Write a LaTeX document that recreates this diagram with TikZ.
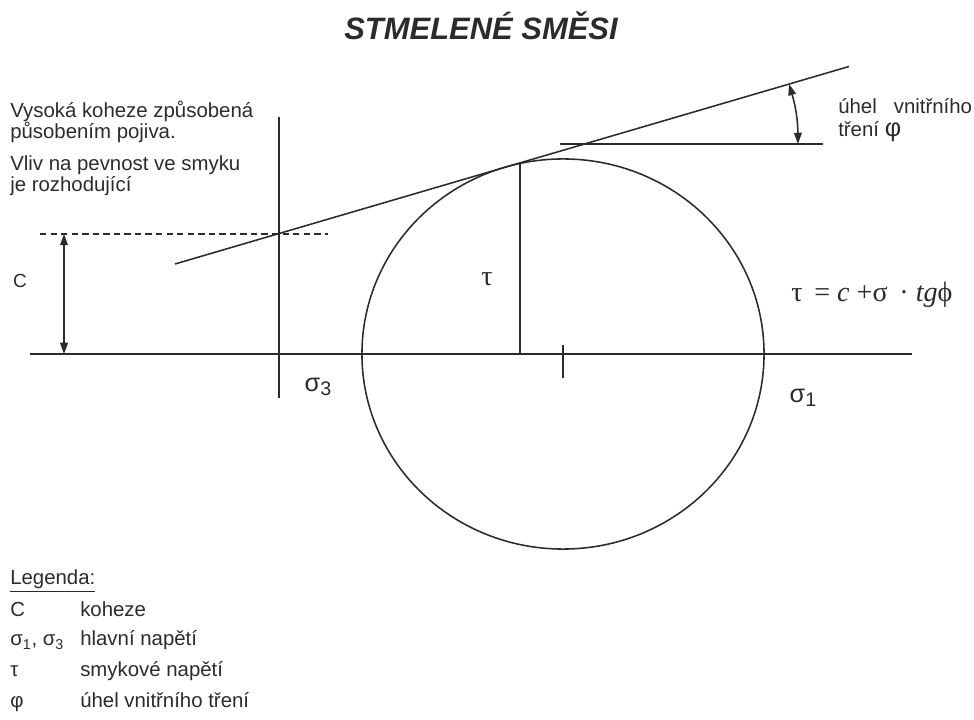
\documentclass[tikz,border=0pt]{standalone}
\usepackage{fontspec}
\setmainfont{Liberation Sans}
\newfontfamily\timesfont{Liberation Serif}
\usetikzlibrary{arrows.meta}
\definecolor{ink}{HTML}{2B2B2B}

\begin{document}
\begin{tikzpicture}[x=0.025cm,y=-0.025cm,>={Triangle[length=8pt,width=5.5pt]},
  line/.style={draw=ink,line width=1.1pt},
  txt/.style={anchor=west,inner sep=0pt,text=ink,font=\fontsize{14.5}{15}\selectfont,align=left},
  leg/.style={anchor=base west,inner sep=0pt,text=ink,font=\fontsize{14.5}{14.5}\selectfont},
  sig/.style={inner sep=0pt,text=ink,font=\fontsize{18}{18}\selectfont},
  serif/.style={inner sep=0pt,text=ink,font=\timesfont\fontsize{20}{20}\selectfont}]
\useasboundingbox (0,0) rectangle (974,720);
% title
\node[text=ink,font=\fontsize{22}{22}\selectfont\bfseries\itshape] (title) at (481,26) {STMELENÉ SMĚSI};
% axes
\coordinate (xL) at (30,354);
\coordinate (xR) at (912,354);
\coordinate (vT) at (279,117);
\coordinate (vB) at (279,398);
\draw[line] (xL) -- (xR);
\draw[line] (vT) -- (vB);
% Mohr circle with centre tick
\coordinate (ctr) at (563,354);
\draw[line] (ctr) ellipse[x radius=5.025cm,y radius=4.875cm];
\coordinate (tkT) at (563,345);
\coordinate (tkB) at (563,378);
\draw[line] (tkT) -- (tkB);
% shear stress
\coordinate (tauT) at (520,163);
\coordinate (tauB) at (520,354);
\draw[line] (tauT) -- (tauB);
% failure envelope
\coordinate (eL) at (175,264);
\coordinate (eR) at (849,66.5);
\draw[line] (eL) -- (eR);
% friction angle
\coordinate (hL) at (560,144);
\coordinate (hR) at (823,144);
\draw[line] (hL) -- (hR);
\coordinate (aT) at (789,84);
\coordinate (aB) at (798,144);
\draw[line,<->] (aT) to[bend left=8] (aB);
% cohesion
\coordinate (dL) at (40,234);
\coordinate (dR) at (328,234);
\draw[line,dashed,dash pattern=on 4.5pt off 3pt] (dL) -- (dR);
\coordinate (cT) at (64,234);
\coordinate (cB) at (64,354);
\draw[line,<->] (cT) -- (cB);
% labels
\node[txt] (note1) at (10,122) {Vysoká koheze způsobená\\působením pojiva.};
\node[txt] (note2) at (10,176) {Vliv na pevnost ve smyku\\je rozhodující};
\node[txt] (phiTxt1) at (838,106) {úhel\ \ \ vnitřního};
\node[txt] (phiTxt2) at (838,132) {tření {\fontsize{18}{18}\selectfont φ}};
\node[inner sep=0pt,text=ink,font=\fontsize{13.5}{13.5}\selectfont] (cLab) at (20,281) {C};
\node[serif] (tauLab) at (487,279) {τ};
\node[sig] (s3Lab) at (318,387) {σ\raisebox{-0.3ex}{\fontsize{14}{14}\selectfont 3}};
\node[sig] (s1Lab) at (803,398) {σ\raisebox{-0.3ex}{\fontsize{14}{14}\selectfont 1}};
\node[serif,anchor=west] (law) at (791,295) {τ\ \,= \textit{c} +σ\ \,· \textit{tg}ϕ};
% legend
\node[leg] (legTitle) at (10,585) {\underline{Legenda:}};
\node[leg] (legC) at (10,616) {C};
\node[leg] (legCd) at (80,616) {koheze};
\node[leg] (legS) at (10,646) {σ\textsubscript{1}, σ\textsubscript{3}};
\node[leg] (legSd) at (80,646) {hlavní napětí};
\node[leg] (legT) at (10,676) {τ};
\node[leg] (legTd) at (80,676) {smykové napětí};
\node[leg] (legP) at (10,707) {φ};
\node[leg] (legPd) at (80,707) {úhel vnitřního tření};
\end{tikzpicture}
\end{document}
